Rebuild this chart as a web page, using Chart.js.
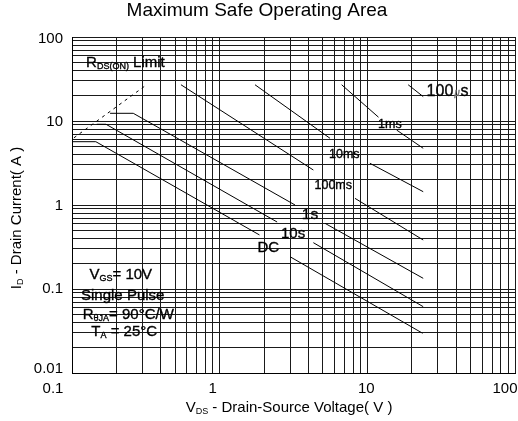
<!DOCTYPE html>
<html>
<head>
<meta charset="utf-8">
<script src="https://cdn.jsdelivr.net/npm/chart.js@4/dist/chart.umd.min.js"></script>
<style>
  html, body { margin: 0; padding: 0; background: #fff; overflow: hidden; }
  #soa { display: block; }
</style>
</head>
<body>
<canvas id="soa" width="518" height="421"></canvas>
<script>
// Axis tick labels (log decades)
const xTickLabels = ['0.1', '1', '10', '100'];
const yTickLabels = ['0.01', '0.1', '1', '10', '100'];

// Safe operating area boundaries: [VDS (V), ID (A)]; [V, null] breaks the line where its label sits
const rdsOnLimit = [[0.103, 6.3], [0.32, 27]];
const limit100us = [[18.9, 27], [23.9, 19.5]];
const limit1ms   = [[6.7, 27], [11.9, 11.1], [14.2, null], [15.8, 7.8], [23.9, 4.73]];
const limit10ms  = [[1.735, 27], [5.59, 6.22], [7.0, null], [10.4, 3.14], [23.9, 1.44]];
const limit100ms = [[0.547, 27], [4.31, 2.61], [5.9, null], [8.25, 1.20], [23.9, 0.383]];
const limit1s    = [[0.181, 12.35], [0.26, 12.35], [3.24, 1.0], [4.1, null], [5.17, 0.605], [23.9, 0.134]];
const limit10s   = [[0.147, 9.14], [0.17, 9.14], [2.45, 0.627], [3.2, null], [4.31, 0.356], [23.9, 0.0616]];
const limitDC    = [[0.1, 5.67], [0.145, 5.67], [1.86, 0.44], [2.1, null], [3.0, 0.242], [23.7, 0.0297]];

const FONT = '"Liberation Sans", Arial, Helvetica, sans-serif';

const toXY = pts => pts.map(([x, y]) => ({ x, y }));

// 1..9 x 10^n grid values across the decades of a log axis
function logGrid(min, max) {
  const out = [];
  for (let e = Math.round(Math.log10(min)); e < Math.round(Math.log10(max)); e++) {
    for (let m = 1; m < 10; m++) out.push(Number((m * Math.pow(10, e)).toPrecision(3)));
  }
  out.push(max);
  return out;
}

function curve(points, dashed) {
  return {
    data: toXY(points),
    borderColor: '#000',
    borderWidth: 1,
    borderDash: dashed ? [3, 4] : [],
    pointRadius: 0,
    spanGaps: false,
    tension: 0,
    fill: false
  };
}

// Draw a run of text pieces; pieces flagged sub are smaller and dropped below the baseline
function rich(ctx, parts, x, y, align, heavy) {
  const widths = parts.map(p => {
    ctx.font = (p.italic ? 'italic ' : '') + p.size + 'px ' + FONT;
    return ctx.measureText(p.t).width;
  });
  const total = widths.reduce((a, b) => a + b, 0);
  let cx = align === 'center' ? x - total / 2 : align === 'right' ? x - total : x;
  ctx.textAlign = 'left';
  ctx.textBaseline = 'alphabetic';
  parts.forEach((p, i) => {
    ctx.font = (p.italic ? 'italic ' : '') + p.size + 'px ' + FONT;
    ctx.fillStyle = p.color || '#000';
    const by = y + 5.4 + (p.sub ? 1.5 : 0);
    ctx.fillText(p.t, cx, by);
    if (heavy) {
      ctx.strokeStyle = p.color || '#000';
      ctx.lineWidth = 0.35;
      ctx.strokeText(p.t, cx, by);
    }
    cx += widths[i];
  });
}

const T = (t, size = 15) => ({ t, size });
const S = (t, size = 9) => ({ t, size, sub: true });

// Curve and condition annotations, anchored in data space
const annotations = [
  { at: [0.1245, 50.4], align: 'left',   parts: [T('R'), S('DS(ON)'), T(' Limit')] },
  { at: [25.2, 22.8],   align: 'left',   parts: [T('100', 16), T(' ', 3), { t: '\u00b5', size: 10, italic: true, color: '#777' }, T(' ', 2), T('s', 16)] },
  { at: [14.2, 9.55],   align: 'center', parts: [T('1ms', 12.5)] },
  { at: [6.98, 4.22],   align: 'center', parts: [T('10ms', 12.5)] },
  { at: [5.88, 1.79],   align: 'center', parts: [T('100ms', 12.5)] },
  { at: [4.09, 0.792],  align: 'center', parts: [T('1s', 15.5)] },
  { at: [3.14, 0.464],  align: 'center', parts: [T('10s')] },
  { at: [2.135, 0.321], align: 'center', parts: [T('DC')] },
  { at: [0.214, 0.151], align: 'center', parts: [T('V'), S('GS'), T('= 10V')] },
  { at: [0.2205, 0.0865], align: 'center', parts: [T('Single Pulse')] },
  { at: [0.2406, 0.0504], align: 'center', parts: [T('R'), S('\u03b8JA'), T('= 90\u00b0C/W')] },
  { at: [0.2257, 0.0316], align: 'center', parts: [T('T'), S('A'), T(' = 25\u00b0C')] }
];

const soaText = {
  id: 'soaText',
  afterDraw(chart) {
    const { ctx, chartArea, scales: { x, y } } = chart;
    ctx.save();

    // title
    rich(ctx, [T('Maximum Safe Operating Area', 19)], 257, 10.5, 'center');

    // x tick labels (outer ones pulled inward)
    const xShift = [-19, -7, -1, -10];
    xTickLabels.forEach((lab, i) => {
      rich(ctx, [T(lab)], x.getPixelForValue(parseFloat(lab)) + xShift[i], 388, 'center');
    });
    // y tick labels
    const yShift = [-5, -1.5, 0, 0, 0.5];
    yTickLabels.forEach((lab, i) => {
      rich(ctx, [T(lab)], chartArea.left - 9, y.getPixelForValue(parseFloat(lab)) + yShift[i], 'right');
    });

    // axis titles
    rich(ctx, [T('V'), S('DS'), T(' - Drain-Source Voltage( V )')], 289, 407, 'center');
    ctx.save();
    ctx.translate(16, 218);
    ctx.rotate(-Math.PI / 2);
    rich(ctx, [T('I'), S('D'), T(' - Drain Current( A )')], 0, 0, 'center');
    ctx.restore();

    annotations.forEach(a => {
      rich(ctx, a.parts, x.getPixelForValue(a.at[0]), y.getPixelForValue(a.at[1]), a.align, true);
    });
    ctx.restore();
  }
};

const gridStyle = { color: '#1a1a1a', lineWidth: 1, drawTicks: false };

new Chart(document.getElementById('soa'), {
  type: 'line',
  data: {
    datasets: [
      curve(rdsOnLimit, true),
      curve(limit100us),
      curve(limit1ms),
      curve(limit10ms),
      curve(limit100ms),
      curve(limit1s),
      curve(limit10s),
      curve(limitDC)
    ]
  },
  options: {
    responsive: false,
    animation: false,
    devicePixelRatio: 1,
    layout: { padding: { top: 37, right: 3, left: 0, bottom: 0 } },
    plugins: {
      legend: { display: false },
      title: { display: false },
      tooltip: { enabled: false }
    },
    scales: {
      x: {
        type: 'logarithmic',
        min: 0.1,
        max: 100,
        afterBuildTicks: s => { s.ticks = logGrid(0.1, 100).map(v => ({ value: v })); },
        afterFit: s => { s.height = 48; },
        ticks: { display: false },
        grid: gridStyle,
        border: { display: true, color: '#000', width: 1 }
      },
      y: {
        type: 'logarithmic',
        min: 0.01,
        max: 100,
        afterBuildTicks: s => { s.ticks = logGrid(0.01, 100).map(v => ({ value: v })); },
        afterFit: s => { s.width = 72; },
        ticks: { display: false },
        grid: gridStyle,
        border: { display: true, color: '#000', width: 1 }
      }
    }
  },
  plugins: [soaText]
});
</script>
</body>
</html>
